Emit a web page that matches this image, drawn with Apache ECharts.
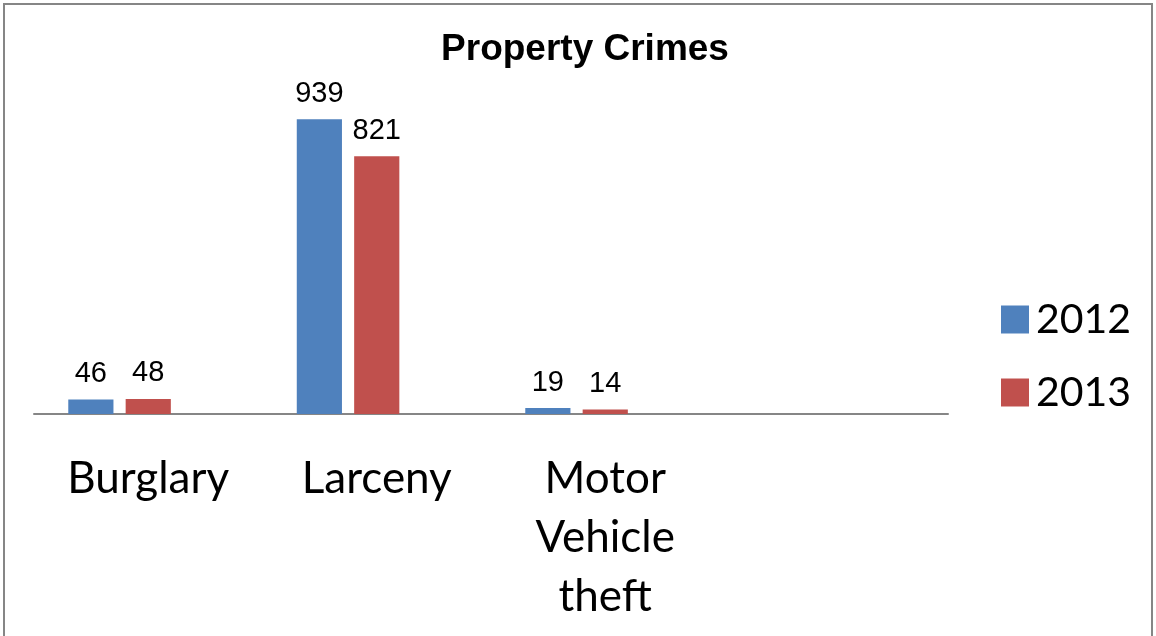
<!DOCTYPE html>
<html><head><meta charset="utf-8">
<script src="https://cdn.jsdelivr.net/npm/echarts@6/dist/echarts.min.js"></script>
<style>html,body{margin:0;padding:0;background:#fff}#c{width:1156px;height:636px}</style>
</head><body><div id="c"></div>
<script>
const categories = ['Burglary', 'Larceny', 'Motor Vehicle theft', ''];
const values2012 = [46, 939, 19, null];
const values2013 = [48, 821, 14, null];
const padSeries = [null, null, null, null];
const chart = echarts.init(document.getElementById('c'));
const labelStyle = {show: true, position: 'top', distance: 11, fontFamily: 'Liberation Sans, Arial', fontSize: 29, color: '#000'};
chart.setOption({
  animation: false,
  backgroundColor: '#fff',
  title: {text: 'Property Crimes', left: 580, textAlign: 'center', top: 26,
    textStyle: {fontFamily: 'Liberation Sans, Arial', fontWeight: 'bold', fontSize: 37, color: '#000'}},
  graphic: [{type: 'rect', shape: {x: 4, y: 4, width: 1148, height: 640}, style: {fill: 'none', stroke: '#868686', lineWidth: 2}, silent: true}],
  legend: {data: ['2012', '2013'], orient: 'vertical', left: 996, top: 294, itemWidth: 28, itemHeight: 28, itemGap: 32,
    icon: 'rect', textStyle: {fontFamily: 'Lato', fontSize: 41, color: '#000', padding: [0, 0, 0, 2]}},
  grid: {left: 34, right: 208, top: 100, bottom: 222, containLabel: false},
  xAxis: {type: 'category', data: categories,
    axisLine: {lineStyle: {color: '#868686', width: 2}},
    axisTick: {show: false},
    axisLabel: {interval: 0, margin: 35, fontFamily: 'Lato', fontSize: 44, color: '#000', lineHeight: 59,
      formatter: v => v.split(' ').join('\n')}},
  yAxis: {type: 'value', min: 0, max: 1000, show: false, splitLine: {show: false}},
  series: [
    {name: '2012', type: 'bar', data: values2012, barGap: '27%', barCategoryGap: '30%',
     itemStyle: {color: '#4F81BD'}, label: labelStyle},
    {name: '2013', type: 'bar', data: values2013,
     itemStyle: {color: '#C0504D'}, label: labelStyle},
    {name: 'pad', type: 'bar', data: padSeries, itemStyle: {color: 'transparent'}}
  ]
});
</script></body></html>
